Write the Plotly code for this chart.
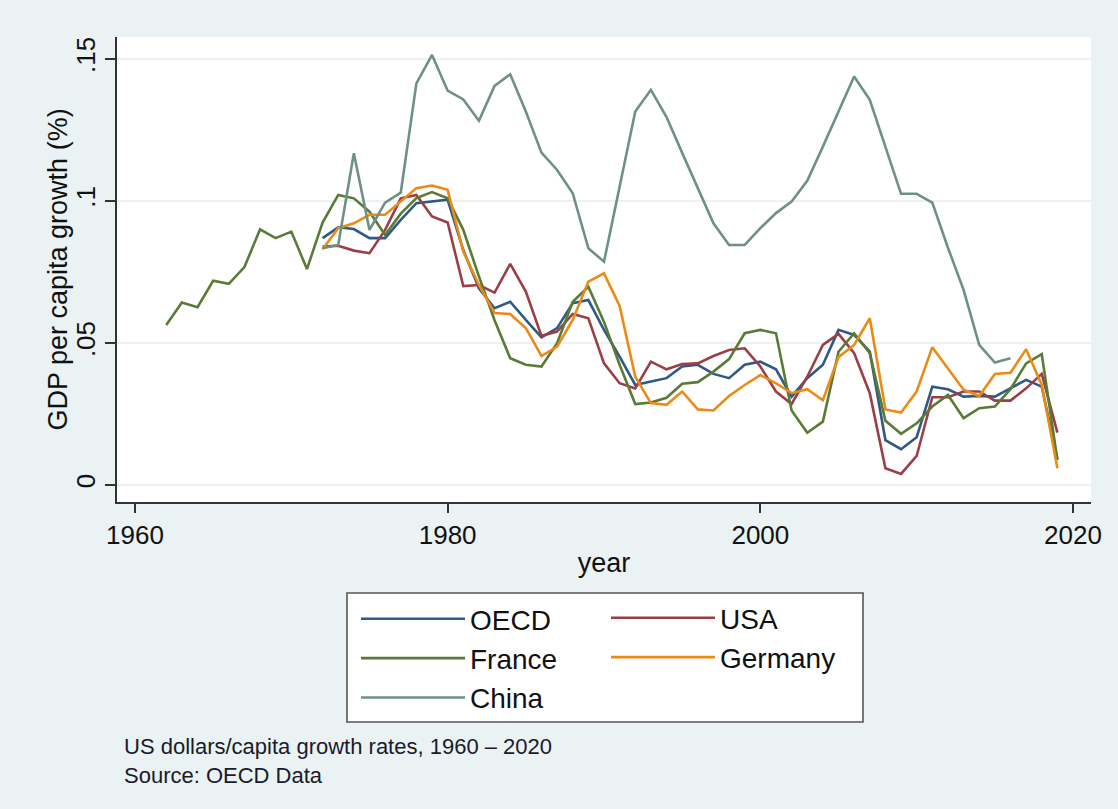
import plotly.graph_objects as go

# ---------------- data ----------------
years_france = list(range(1962, 2020))
france = [0.0563, 0.0642, 0.0626, 0.0719, 0.0708, 0.0767, 0.0900, 0.0869, 0.0892, 0.0760,
          0.0924, 0.1021, 0.1009, 0.0962, 0.0880, 0.0955, 0.1010, 0.1031, 0.1009, 0.0898,
          0.0734, 0.0580, 0.0446, 0.0423, 0.0417, 0.0499, 0.0645, 0.0698, 0.0574, 0.0423,
          0.0285, 0.0290, 0.0307, 0.0356, 0.0362, 0.0399, 0.0443, 0.0534, 0.0546, 0.0534,
          0.0262, 0.0184, 0.0223, 0.0469, 0.0534, 0.0464, 0.0226, 0.0180, 0.0217, 0.0276,
          0.0317, 0.0235, 0.0270, 0.0276, 0.0337, 0.0428, 0.0461, 0.0088]

years_72 = list(range(1972, 2020))
oecd = [0.0869, 0.0907, 0.0901, 0.0869, 0.0869, 0.0933, 0.0992, 0.0998, 0.1004, 0.0827,
        0.0692, 0.0622, 0.0645, 0.0581, 0.0520, 0.0552, 0.0640, 0.0651, 0.0546, 0.0452,
        0.0352, 0.0364, 0.0376, 0.0417, 0.0423, 0.0391, 0.0376, 0.0423, 0.0434, 0.0407,
        0.0311, 0.0376, 0.0423, 0.0546, 0.0528, 0.0469, 0.0158, 0.0126, 0.0168, 0.0346,
        0.0337, 0.0311, 0.0313, 0.0311, 0.0340, 0.0370, 0.0346, 0.0090]

usa = [0.0839, 0.0842, 0.0825, 0.0816, 0.0898, 0.1009, 0.1021, 0.0945, 0.0924, 0.0700,
       0.0704, 0.0677, 0.0778, 0.0681, 0.0525, 0.0540, 0.0602, 0.0587, 0.0428, 0.0358,
       0.0340, 0.0434, 0.0407, 0.0426, 0.0428, 0.0454, 0.0475, 0.0481, 0.0417, 0.0329,
       0.0285, 0.0381, 0.0493, 0.0532, 0.0464, 0.0323, 0.0059, 0.0039, 0.0102, 0.0309,
       0.0309, 0.0329, 0.0329, 0.0297, 0.0297, 0.0340, 0.0391, 0.0184]

germany = [0.0830, 0.0904, 0.0921, 0.0951, 0.0951, 0.0998, 0.1045, 0.1054, 0.1039, 0.0822,
           0.0704, 0.0605, 0.0602, 0.0552, 0.0454, 0.0487, 0.0581, 0.0716, 0.0745, 0.0630,
           0.0381, 0.0288, 0.0282, 0.0329, 0.0266, 0.0262, 0.0313, 0.0352, 0.0387, 0.0358,
           0.0323, 0.0337, 0.0298, 0.0450, 0.0493, 0.0587, 0.0266, 0.0255, 0.0329, 0.0485,
           0.0411, 0.0335, 0.0313, 0.0391, 0.0395, 0.0478, 0.0352, 0.0059]

years_china = list(range(1972, 2017))
china = [0.0833, 0.0845, 0.1168, 0.0898, 0.0994, 0.1029, 0.1414, 0.1514, 0.1388, 0.1357,
         0.1282, 0.1405, 0.1446, 0.1315, 0.1170, 0.1109, 0.1027, 0.0833, 0.0786, 0.1048,
         0.1315, 0.1391, 0.1295, 0.1169, 0.1045, 0.0921, 0.0845, 0.0845, 0.0904, 0.0957,
         0.0998, 0.1071, 0.1191, 0.1315, 0.1438, 0.1356, 0.1189, 0.1025, 0.1025, 0.0994,
         0.0835, 0.0687, 0.0493, 0.0431, 0.0446]

x_tickvals = [1960, 1980, 2000, 2020]
y_tickvals = [0, 0.05, 0.1, 0.15]
y_ticktext = ["0", ".05", ".1", ".15"]

# ---------------- figure ----------------
W, H = 1118, 809
L, R, T, B = 117, 27, 37, 307
FONT = "Liberation Sans, Arial, sans-serif"

series = [
    ("OECD", years_72, oecd, "#2f5a84", "legend"),
    ("USA", years_72, usa, "#9a3e47", "legend2"),
    ("France", years_france, france, "#5a7b35", "legend"),
    ("Germany", years_72, germany, "#ec8a16", "legend2"),
    ("China", years_china, china, "#6f9086", "legend"),
]

fig = go.Figure()
for name, xs, ys, col, lg in series:
    fig.add_trace(go.Scatter(x=xs, y=ys, mode="lines", name=name,
                             line=dict(color=col, width=2.6), legend=lg))

def px2paper_x(px):
    return (px - L) / (W - L - R)

def px2paper_y(py):
    return (H - B - py) / (H - T - B)

leg_common = dict(
    font=dict(family=FONT, size=28, color="#111111"),
    bgcolor="rgba(0,0,0,0)", borderwidth=0,
    orientation="v", xref="container", yref="container",
    xanchor="left", yanchor="top", itemwidth=104,
    traceorder="normal", tracegroupgap=0,
)

fig.update_layout(
    width=W, height=H,
    margin=dict(l=L, r=R, t=T, b=B, autoexpand=False),
    paper_bgcolor="#EAF2F3",
    plot_bgcolor="#FFFFFF",
    font=dict(family=FONT, size=26, color="#111111"),
    showlegend=True,
    legend=dict(x=356 / W, y=1 - 594 / H, **leg_common),
    legend2=dict(x=606 / W, y=1 - 593 / H, **leg_common),
    xaxis=dict(
        range=[1958.85, 2021.15],
        tickvals=x_tickvals,
        ticks="outside", ticklen=9, tickwidth=1.5, tickcolor="#333333",
        showline=True, linecolor="#333333", linewidth=1.6,
        showgrid=False, zeroline=False,
        tickfont=dict(family=FONT, size=26, color="#111111"),
        title=dict(text="year", font=dict(family=FONT, size=27, color="#111111"), standoff=4),
        automargin=True,
    ),
    yaxis=dict(
        range=[-0.006, 0.1577],
        tickvals=y_tickvals, ticktext=y_ticktext, tickangle=-90,
        ticks="outside", ticklen=10, tickwidth=1.5, tickcolor="#333333",
        showline=True, linecolor="#333333", linewidth=1.6,
        showgrid=True, gridcolor="#EAF2F3", gridwidth=1.5,
        zeroline=False,
        tickfont=dict(family=FONT, size=26, color="#111111"),
        automargin=False,
    ),
    shapes=[dict(type="rect", xref="paper", yref="paper",
                 x0=px2paper_x(347), x1=px2paper_x(863),
                 y0=px2paper_y(722), y1=px2paper_y(593),
                 line=dict(color="#555555", width=1.6), fillcolor="#FFFFFF", layer="below")],
    annotations=[
        # y-axis title
        dict(xref="paper", yref="paper", x=px2paper_x(57), y=0.5,
             xanchor="center", yanchor="middle", showarrow=False, textangle=-90,
             text="GDP per capita growth (%)",
             font=dict(family=FONT, size=27, color="#111111")),
        # note / source (one text block)
        dict(xref="paper", yref="paper", x=px2paper_x(122), y=px2paper_y(761),
             xanchor="left", yanchor="middle", showarrow=False, align="left",
             text="US dollars/capita growth rates, 1960 – 2020<br>Source: OECD Data",
             font=dict(family=FONT, size=22, color="#1a1a2a")),
    ],
)

fig.write_html("out.html", config={"displayModeBar": False},
               post_script="document.body.style.margin='0';")
